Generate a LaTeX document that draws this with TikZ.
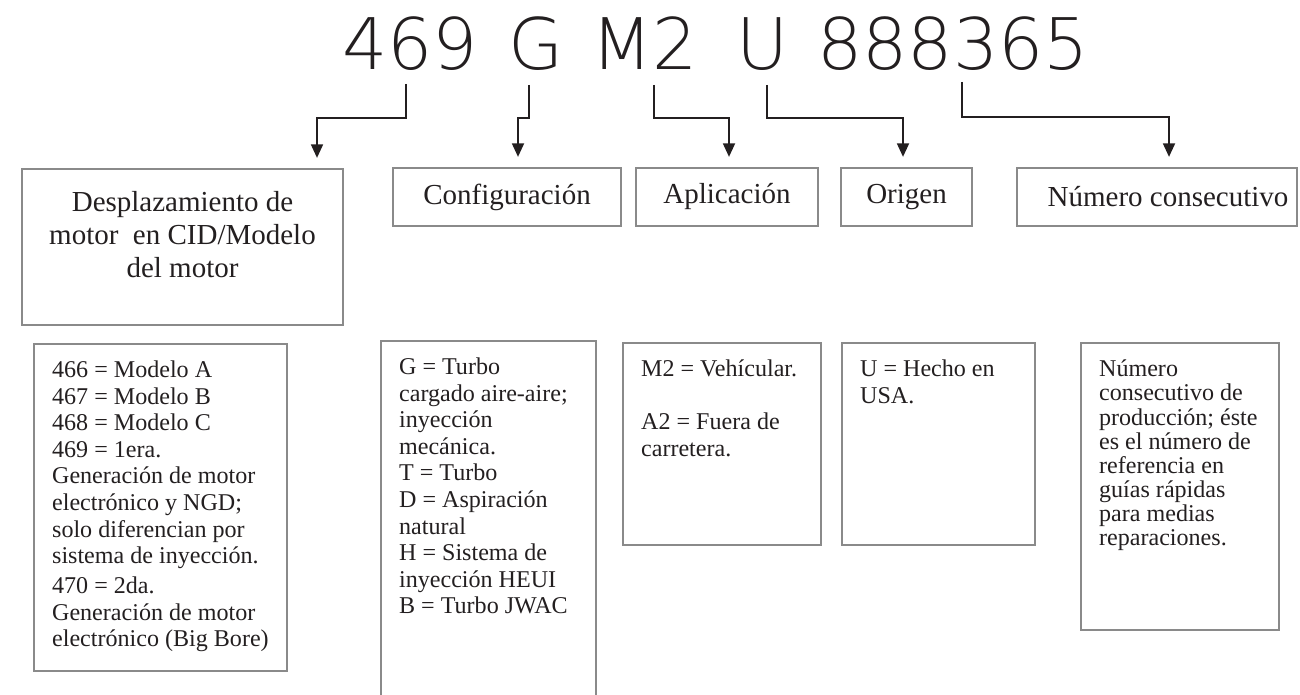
\documentclass[tikz,border=0pt]{standalone}
\usepackage{fontspec}
\setmainfont{Liberation Serif}
\newfontfamily\codefont{DejaVu Sans ExtraLight}
\usetikzlibrary{positioning, arrows.meta, calc}
\definecolor{boxgray}{RGB}{138,138,138}
\definecolor{ink}{RGB}{35,31,32}

\begin{document}
\begin{tikzpicture}[
    x=0.02cm, y=-0.02cm,
    code/.style={anchor=base west, inner sep=0, text=ink, font=\codefont\fontsize{40.5}{40.5}\selectfont},
    head/.style={rectangle, draw=boxgray, line width=1.3pt, inner sep=0, text=ink, font=\fontsize{16.5}{18.8}\selectfont},
    info/.style={rectangle, draw=boxgray, line width=1.3pt, anchor=north west, inner xsep=0.36cm, inner ysep=0.34cm, text=ink, font=\fontsize{13.7}{15.1}\selectfont},
    arrow/.style={-{Triangle[length=0.27cm, width=0.24cm]}, draw=ink, line width=1pt, shorten >=0.2cm}
]
    \useasboundingbox (0,0) rectangle (1300,695);
    \clip (0,0) rectangle (1300,695);

    % engine serial number
    \node[code] (t469) at (342,70) {469};
    \node[code] (tG) at (508,70) {G};
    \node[code] (tM2) at (591,70) {M2};
    \node[code] (tU) at (736,70) {U};
    \node[code] (tnum) at (817,70) {888365};

    % headings
    \node[head, inner ysep=0.44cm] (hd1) at (182.5,247) {\parbox[c][2.24cm][t]{6.42cm}{\centering Desplazamiento de\\motor~ en CID/Modelo\\del motor}};
    \node[head, minimum width=4.56cm, minimum height=1.16cm] (hd2) at (507,197) {Configuración};
    \node[head, minimum width=3.64cm, minimum height=1.16cm] (hd3) at (727,197) {Aplicación};
    \node[head, minimum width=2.62cm, minimum height=1.16cm] (hd4) at (906.5,197) {Origen};
    \node[head, minimum width=5.6cm, minimum height=1.16cm] (hd5) at (1157,197) {\hspace{0.44cm}Número consecutivo};

    % descriptions
    \node[info] (inA) at (33,343) {\parbox[c][5.86cm][t]{4.34cm}{\raggedright
        466 = Modelo A\\467 = Modelo B\\468 = Modelo C\\469 = 1era.\\Generación de motor\\electrónico y NGD;\\solo diferencian por\\sistema de inyección.\\[2pt]
        470 = 2da.\\Generación de motor\\electrónico (Big Bore)}};
    \node[info] (inB) at (380,340) {\parbox[c][6.92cm][t]{3.58cm}{\raggedright
        G = Turbo\\cargado aire-aire;\\inyección\\mecánica.\\T = Turbo\\D = Aspiración\\natural\\H = Sistema de\\inyección HEUI\\B = Turbo JWAC}};
    \node[info] (inC) at (622,342) {\parbox[c][3.36cm][t]{3.24cm}{\raggedright
        M2 = Vehícular.\\[\baselineskip]A2 = Fuera de\\carretera.}};
    \node[info] (inD) at (841,342) {\parbox[c][3.36cm][t]{3.14cm}{\raggedright
        U = Hecho en\\USA.}};
    \node[info] (inE) at (1080,342) {\parbox[c][5.06cm][t]{3.24cm}{\raggedright\fontsize{13.7}{13.7}\selectfont
        Número\\consecutivo de\\producción; éste\\es el número de\\referencia en\\guías rápidas\\para medias\\reparaciones.}};

    % arrows
    \coordinate (s1) at (406,84);  \coordinate (k1) at (317,118);
    \coordinate (s2) at (529,85);  \coordinate (k2) at (518,118);
    \coordinate (s3) at (654,85);  \coordinate (k3) at (729,118);
    \coordinate (s4) at (767,85);  \coordinate (k4) at (903,118);
    \coordinate (s5) at (962,82);  \coordinate (k5) at (1169,117);
    \draw[arrow] (s1) |- (k1) -- (k1 |- hd1.north);
    \draw[arrow] (s2) |- (k2) -- (k2 |- hd2.north);
    \draw[arrow] (s3) |- (k3) -- (k3 |- hd3.north);
    \draw[arrow] (s4) |- (k4) -- (k4 |- hd4.north);
    \draw[arrow] (s5) |- (k5) -- (k5 |- hd5.north);
\end{tikzpicture}
\end{document}
